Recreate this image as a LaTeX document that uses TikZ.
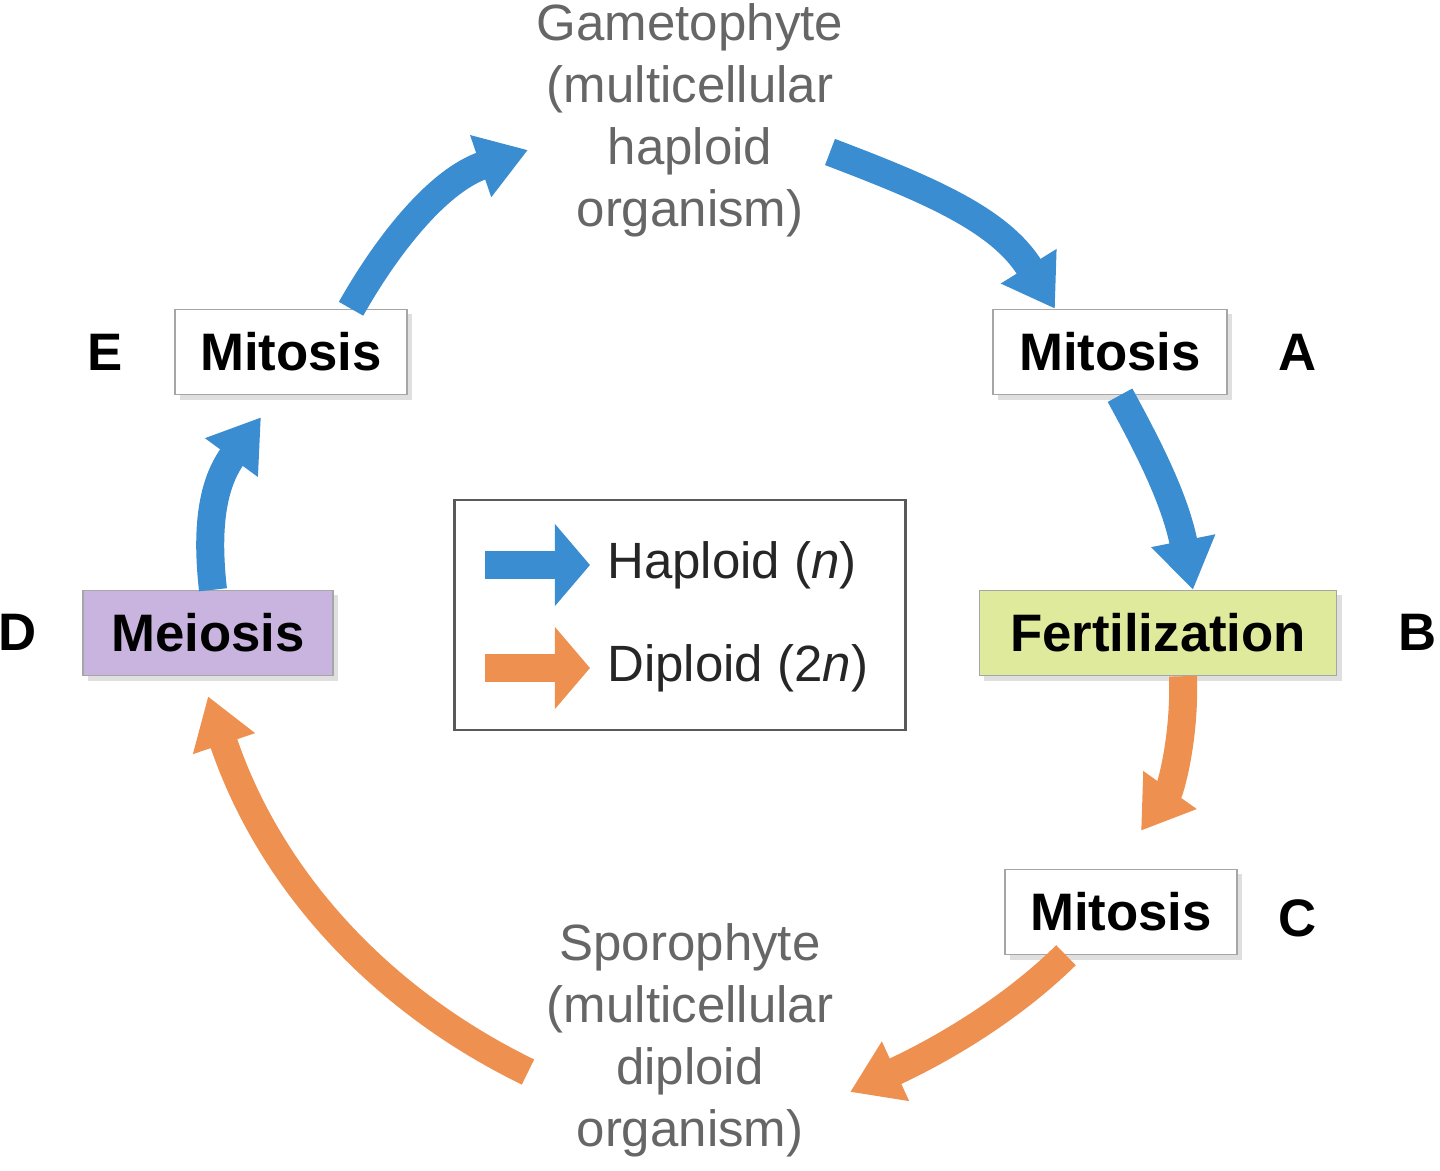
\documentclass[tikz,border=0pt]{standalone}
\usepackage{fontspec}
\setmainfont{Liberation Sans}
\usetikzlibrary{arrows.meta,shadows}
\definecolor{hapblue}{HTML}{3A8DD0}
\definecolor{dipor}{HTML}{EE9150}
\definecolor{fertgreen}{HTML}{E0EA9C}
\definecolor{meipurple}{HTML}{C8B4DE}
\begin{document}
\begin{tikzpicture}[x=0.01cm,y=-0.01cm,
    stage/.style = {draw=gray!70, fill=white, minimum height=0.85cm, inner xsep=0.22cm,
                    font=\fontsize{15}{18}\selectfont\bfseries, drop shadow={opacity=0.25,shadow xshift=0.05cm,shadow yshift=-0.05cm}},
    letter/.style = {font=\fontsize{15}{18}\selectfont\bfseries},
    organism/.style = {align=center, text=gray!80!black, font=\fontsize{14.5}{17.6}\selectfont},
    flow/.style = {line width=0.28cm, -{Triangle[width=0.62cm,length=0.5cm]}},
    hap/.style = {flow, draw=hapblue},
    dip/.style = {flow, draw=dipor}]
  \useasboundingbox (0,0) rectangle (1440,1170);

  \node[organism] (game) at (690,120) {Gametophyte\\(multicellular\\haploid\\organism)};
  \node[organism] (spor) at (690,1040) {Sporophyte\\(multicellular\\diploid\\organism)};

  \node[stage, minimum width=2.34cm] (mitA) at (1110,352) {Mitosis};
  \node[stage, minimum width=3.57cm, fill=fertgreen] (fert) at (1158,633) {Fertilization};
  \node[stage, minimum width=2.32cm] (mitC) at (1121,912) {Mitosis};
  \node[stage, minimum width=2.50cm, fill=meipurple] (meio) at (208,633) {Meiosis};
  \node[stage, minimum width=2.32cm] (mitE) at (291,352) {Mitosis};

  \node[letter] (labA) at (1298,352) {A};
  \node[letter] (labB) at (1418,632) {B};
  \node[letter] (labC) at (1298,918) {C};
  \node[letter] (labD) at (18,632) {D};
  \node[letter] (labE) at (105,352) {E};

  % haploid part of the cycle
  \coordinate (gameIn) at (528,150);
  \coordinate (gameOut) at (830,152);
  \coordinate (sporIn) at (850,1092);
  \coordinate (sporOut) at (528,1072);
  \draw[hap] ([xshift=0.6cm]mitE.north) .. controls (390,240) and (440,180) .. (gameIn);
  \draw[hap] (gameOut) .. controls (930,190) and (1000,220) .. ([xshift=-0.55cm]mitA.north);
  \draw[hap] ([xshift=0.1cm]mitA.south) .. controls (1150,450) and (1175,500) .. ([xshift=0.35cm]fert.north);
  % diploid part of the cycle
  \draw[dip] ([xshift=0.25cm]fert.south) .. controls (1185,740) and (1170,790) .. ([xshift=0.2cm,yshift=0.38cm]mitC.north);
  \draw[dip] ([xshift=-0.55cm]mitC.south) .. controls (1000,1020) and (920,1060) .. (sporIn);
  \draw[dip] (sporOut) .. controls (380,1000) and (270,880) .. ([xshift=0.0cm,yshift=-0.2cm]meio.south);
  \draw[hap] ([xshift=0.05cm]meio.north) .. controls (205,520) and (215,480) .. ([xshift=-0.3cm,yshift=-0.22cm]mitE.south);

  % legend
  \node[draw=gray!70!black, thick, minimum width=4.5cm, minimum height=2.3cm] (key) at (680,615) {};
  \coordinate (hapS) at (485,565);
  \coordinate (hapE) at (590,565);
  \coordinate (dipS) at (485,668);
  \coordinate (dipE) at (590,668);
  \draw[flow, draw=hapblue, -{Triangle[width=0.8cm,length=0.35cm]}] (hapS) -- (hapE);
  \draw[flow, draw=dipor, -{Triangle[width=0.8cm,length=0.35cm]}] (dipS) -- (dipE);
  \node[anchor=west, organism, text=black!85] (hapT) at (595,565) {Haploid (\textit{n})};
  \node[anchor=west, organism, text=black!85] (dipT) at (595,668) {Diploid (2\textit{n})};
\end{tikzpicture}
\end{document}
